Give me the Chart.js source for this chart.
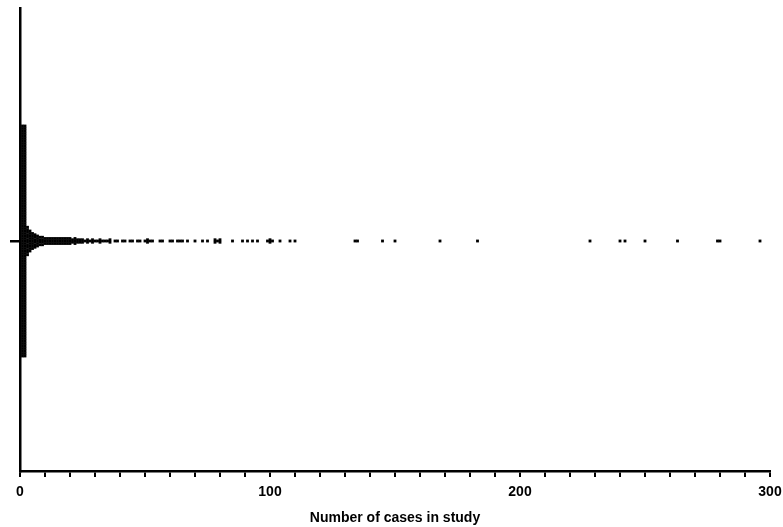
<!DOCTYPE html>
<html><head><meta charset="utf-8">
<script src="https://cdn.jsdelivr.net/npm/chart.js@4.4.1/dist/chart.umd.min.js"></script>
<style>html,body{margin:0;padding:0;background:#fff;}#wrap{width:783px;height:527px;position:relative;}</style>
</head><body><div id="wrap"><canvas id="c"></canvas></div>
<script>
// Number of cases reported in a study, and how many studies reported that number
const caseValues = [1,2,3,4,5,6,7,8,9,10,11,12,13,14,15,16,17,18,19,20,21,22,23,24,25,26,27,28,29,30,31,32,33,34,35,36,38,39,41,42,44,45,47,48,50,51,52,53,56,57,60,61,63,64,65,67,70,73,75,78,79,80,85,89,91,93,95,99,100,101,104,108,110,134,135,145,150,168,183,228,240,242,250,263,279,280,296];
const studyCounts = [93,93,12,9,7,6,5,4,4,3,3,3,3,3,3,3,3,3,3,3,2,3,2,2,2,1,2,1,2,1,1,2,1,1,1,2,1,1,1,1,1,1,1,1,1,2,1,1,1,1,1,1,1,1,1,1,1,1,1,2,1,2,1,1,1,1,1,1,2,1,1,1,1,1,1,1,1,1,1,1,1,1,1,1,1,1,1];
const xTickLabels = ['0','100','200','300'];
const xAxisTitle = 'Number of cases in study';

const stackGap = 2.5;
const points = [];
caseValues.forEach((v, k) => {
  const n = studyCounts[k];
  for (let i = 0; i < n; i++) points.push({x: v, y: (i - (n - 1) / 2) * stackGap});
});

const font = {family: "'Liberation Sans', Arial, sans-serif", weight: 'bold', size: 14};
new Chart(document.getElementById('c'), {
  type: 'scatter',
  data: {datasets: [{data: points, backgroundColor: '#000', borderWidth: 0, pointStyle: 'rect', pointRadius: 2, pointHoverRadius: 2, clip: false}]},
  options: {
    responsive: true, maintainAspectRatio: false, animation: false, devicePixelRatio: 1,
    layout: {padding: {top: 8, right: 13, bottom: 0, left: 0}},
    plugins: {legend: {display: false}, tooltip: {enabled: false}},
    events: [],
    scales: {
      x: {
        type: 'linear', min: 0, max: 300,
        ticks: {stepSize: 10, autoSkip: false, maxRotation: 0, color: '#000', font: font, padding: 7,
          callback: (v) => xTickLabels.includes(String(v)) ? String(v) : ''},
        grid: {display: true, drawOnChartArea: false, drawTicks: true, tickLength: 6, color: '#000', lineWidth: 2},
        border: {display: true, color: '#000', width: 2.5},
        title: {display: true, text: xAxisTitle, color: '#000', font: font, padding: {top: 4, bottom: 0}},
        afterFit: (s) => { s.height = 56; s.paddingLeft = 0; s.paddingRight = 0; }
      },
      y: {
        type: 'linear', min: -230, max: 233,
        afterBuildTicks: (s) => { s.ticks = [{value: 0}]; },
        ticks: {display: false},
        grid: {display: true, drawOnChartArea: false, drawTicks: true, tickLength: 10, color: '#000', lineWidth: 2.5},
        border: {display: true, color: '#000', width: 2.5},
        afterFit: (s) => { s.width = 20; s.paddingTop = 0; s.paddingBottom = 0; }
      }
    }
  }
});
</script></body></html>
